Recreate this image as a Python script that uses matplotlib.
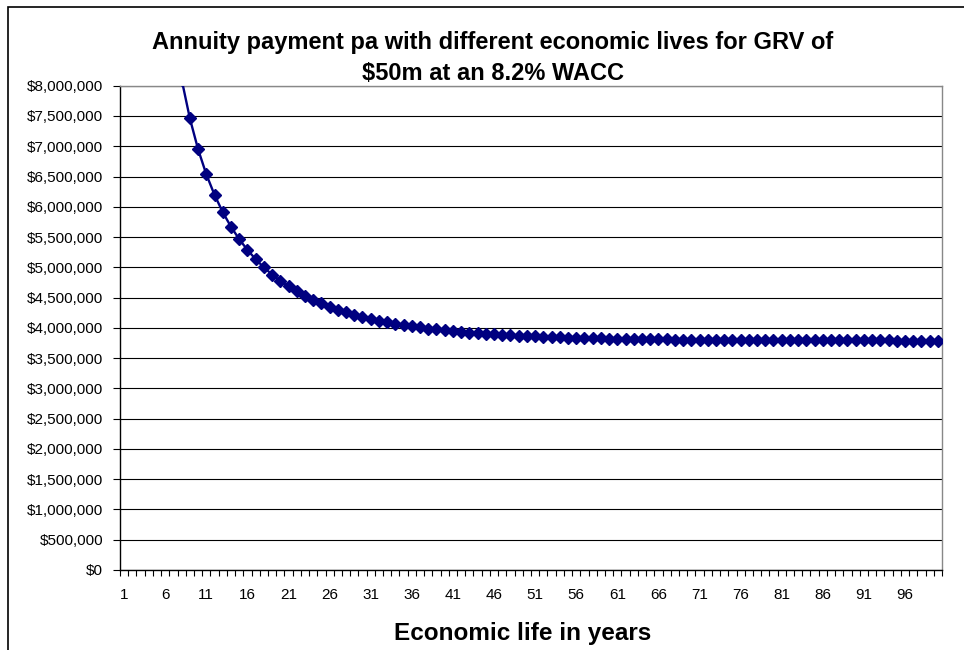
import numpy as np
import matplotlib
matplotlib.use("Agg")
import matplotlib.pyplot as plt
from matplotlib.ticker import FuncFormatter, FixedLocator, NullFormatter
from matplotlib.patches import Rectangle

plt.rcParams['font.family'] = ['Liberation Sans', 'DejaVu Sans']

## values (annuity payment, $ pa)
years = list(range(1, 101))
payment = [
    50000000, 25985000, 17996000, 14014000, 11635000, 10057000, 8937000, 8102000, 7459000, 6949000,
    6536000, 6196000, 5911000, 5670000, 5465000, 5288000, 5134000, 4999000, 4881000, 4777000,
    4684000, 4602000, 4528000, 4462000, 4403000, 4350000, 4302000, 4258000, 4218000, 4183000,
    4150000, 4120000, 4093000, 4068000, 4046000, 4025000, 4006000, 3989000, 3973000, 3959000,
    3945000, 3933000, 3922000, 3911000, 3902000, 3893000, 3885000, 3878000, 3871000, 3864000,
    3859000, 3853000, 3848000, 3844000, 3840000, 3836000, 3832000, 3829000, 3826000, 3823000,
    3821000, 3818000, 3816000, 3814000, 3812000, 3810000, 3809000, 3807000, 3806000, 3805000,
    3803000, 3802000, 3801000, 3800000, 3800000, 3799000, 3798000, 3797000, 3797000, 3796000,
    3796000, 3795000, 3795000, 3794000, 3794000, 3794000, 3793000, 3793000, 3793000, 3792000,
    3792000, 3792000, 3792000, 3792000, 3791000, 3791000, 3791000, 3791000, 3791000, 3791000,
]
ytick_vals = list(range(0, 8000001, 500000))
xlabel_years = list(range(1, 100, 5))

fig = plt.figure(figsize=(9.64, 6.5), dpi=100)
ax = fig.add_axes([120/964, 80/650, (942-120)/964, (570-85.7)/650])

ax.plot(years, payment, color='#000080', lw=1.7, marker='D', markersize=6,
        markeredgecolor='#000080', markerfacecolor='#000080', zorder=3)

ax.set_xlim(0.5, 100.5)
ax.set_ylim(0, 8000000)

# y axis
ax.set_yticks(ytick_vals)
ax.yaxis.set_major_formatter(FuncFormatter(lambda v, p: "${:,.0f}".format(v)))
ax.yaxis.grid(True, color='black', lw=0.8)
ax.tick_params(axis='y', direction='out', length=5, width=0.8, labelsize=11, pad=7)

# x axis: labels every 5 years, tick marks between every category
ax.xaxis.set_major_locator(FixedLocator(xlabel_years))
ax.xaxis.set_minor_locator(FixedLocator(np.arange(0.5, 101, 1)))
ax.xaxis.set_minor_formatter(NullFormatter())
ax.tick_params(axis='x', which='major', length=0, labelsize=11, pad=13)
ax.tick_params(axis='x', which='minor', direction='out', length=4, width=0.8)

ax.set_axisbelow(True)
for side in ['left', 'bottom']:
    ax.spines[side].set_color('black')
    ax.spines[side].set_linewidth(1.0)
for side in ['top', 'right']:
    ax.spines[side].set_color('#888888')
    ax.spines[side].set_linewidth(1.0)

ax.set_xlabel("Economic life in years", fontsize=17.5, fontweight='bold')
ax.xaxis.set_label_coords(0.49, -0.131)
ax.xaxis.label.set_verticalalignment('center')

fig.text(0.511, 1 - 58/650,
         "Annuity payment pa with different economic lives for GRV of\n$50m at an 8.2% WACC",
         ha='center', va='center', fontsize=17, fontweight='bold', linespacing=1.4)

# chart area border (runs off the right and bottom of the image)
fig.patches.append(Rectangle((8/964, -0.1), 1.2, 1.1 - 7/650, transform=fig.transFigure,
                             fill=False, edgecolor='black', lw=1.2))

plt.savefig("out.png", dpi=100)
plt.close()
